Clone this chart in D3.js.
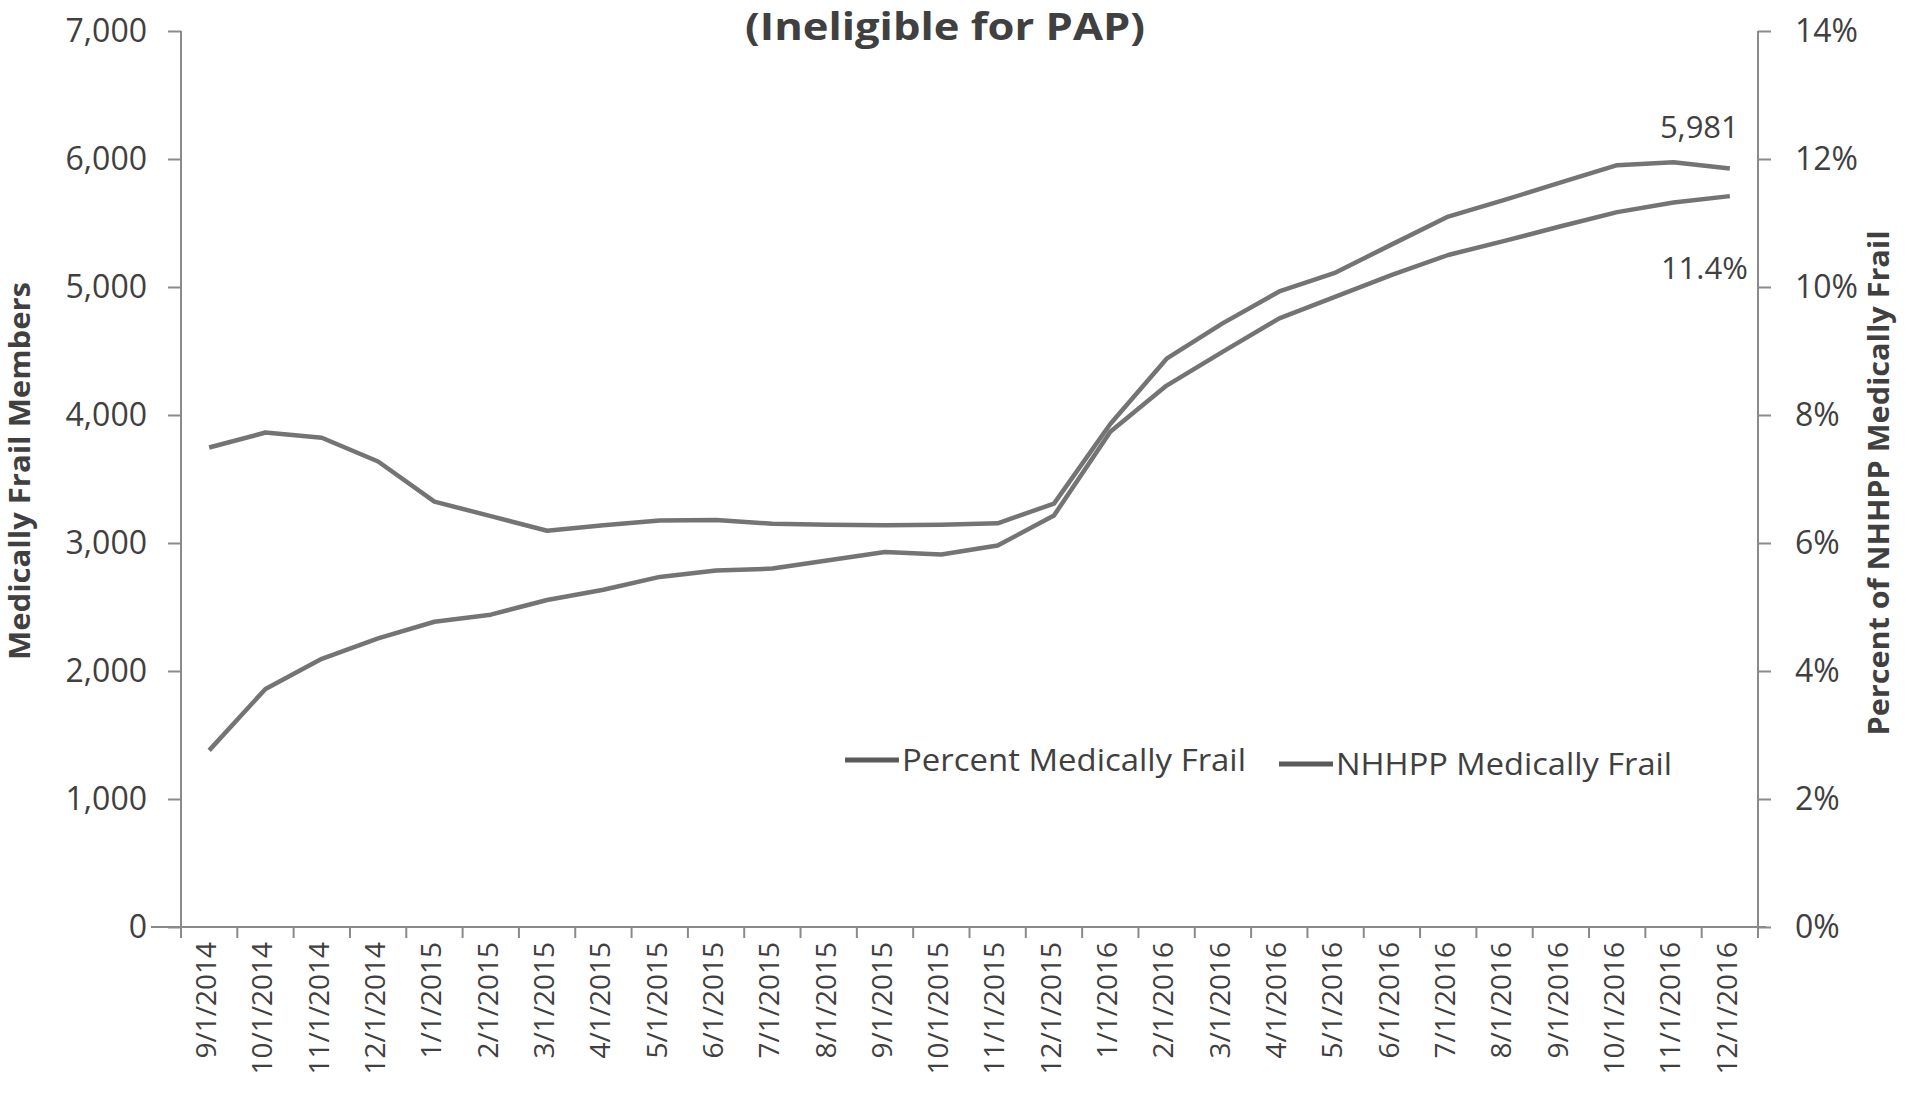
<!DOCTYPE html>
<html>
<head>
<meta charset="utf-8">
<script src="https://cdn.jsdelivr.net/npm/d3@7"></script>
<style>
  body { margin: 0; background: #fff; }
  text { font-family: "Open Sans", sans-serif; fill: #404040; }
</style>
</head>
<body>
<div id="chart"></div>
<script>
// months on the x axis
var months = ["9/1/2014","10/1/2014","11/1/2014","12/1/2014","1/1/2015","2/1/2015","3/1/2015",
  "4/1/2015","5/1/2015","6/1/2015","7/1/2015","8/1/2015","9/1/2015","10/1/2015","11/1/2015",
  "12/1/2015","1/1/2016","2/1/2016","3/1/2016","4/1/2016","5/1/2016","6/1/2016","7/1/2016",
  "8/1/2016","9/1/2016","10/1/2016","11/1/2016","12/1/2016"];

// NHHPP Medically Frail (members, left axis)
var members = [3746,3863,3822,3637,3323,3210,3096,3138,3175,3180,3150,3142,3138,3143,3154,
  3308,3930,4440,4718,4965,5113,5333,5550,5680,5818,5952,5975,5925];

// Percent Medically Frail (right axis)
var percent = [2.76,3.72,4.19,4.51,4.77,4.88,5.11,5.27,5.47,5.57,5.60,5.73,5.86,5.82,5.96,
  6.43,7.74,8.46,8.99,9.51,9.85,10.19,10.50,10.72,10.95,11.17,11.32,11.42];

var seriesNames = ["Percent Medically Frail", "NHHPP Medically Frail"];
var leftTicks = [0,1000,2000,3000,4000,5000,6000,7000];
var rightTicks = [0,2,4,6,8,10,12,14];
var endLabels = ["5,981", "11.4%"];

var W = 1917, H = 1093;
var margin = { top: 31, right: 159, bottom: 166, left: 181 };
var x0 = margin.left, x1 = W - margin.right, y0 = H - margin.bottom, y1 = margin.top;

var svg = d3.select("#chart").append("svg")
    .attr("width", W).attr("height", H)
    .style("background", "#fff");

var x = d3.scaleBand().domain(months).range([x0, x1]).padding(0);
var yL = d3.scaleLinear().domain([0, 7000]).range([y0, y1]);
var yR = d3.scaleLinear().domain([0, 14]).range([y0, y1]);
var cx = function (d) { return x(d) + x.bandwidth() / 2; };

var axisColor = "#8a8a8a";

// title (top cut off in the original)
svg.append("text")
    .attr("x", 945).attr("y", 40)
    .attr("text-anchor", "middle")
    .style("font-size", "38px").style("font-weight", "bold")
    .attr("textLength", 400).attr("lengthAdjust", "spacingAndGlyphs")
    .text("(Ineligible for PAP)");

// left axis
var gL = svg.append("g").attr("transform", "translate(" + x0 + ",0)")
    .call(d3.axisLeft(yL).tickValues(leftTicks).tickSize(13).tickPadding(21)
        .tickFormat(d3.format(",")));
gL.selectAll("text").style("font-size", "32px").style("fill", "#404040");

// right axis
var gR = svg.append("g").attr("transform", "translate(" + x1 + ",0)")
    .call(d3.axisRight(yR).tickValues(rightTicks).tickSize(13).tickPadding(24)
        .tickFormat(function (d) { return d + "%"; }));
gR.selectAll("text").style("font-size", "32px").style("fill", "#404040");

// bottom axis: labels at category centres, ticks between categories
var gB = svg.append("g").attr("transform", "translate(0," + y0 + ")")
    .call(d3.axisBottom(x).tickSize(0).tickPadding(0));
gB.selectAll("text")
    .attr("transform", "rotate(-90)")
    .attr("x", -15).attr("y", -3).attr("dy", "0.35em")
    .style("text-anchor", "end")
    .style("font-size", "28px").style("fill", "#404040");
gB.selectAll(".tick line").remove();
gB.selectAll(".btick")
    .data(months.concat(["end"]))
    .enter().append("line")
    .attr("class", "btick")
    .attr("x1", function (d, i) { return i < months.length ? x(d) : x1; })
    .attr("x2", function (d, i) { return i < months.length ? x(d) : x1; })
    .attr("y1", 0).attr("y2", 11)
    .attr("stroke", axisColor).attr("stroke-width", 2);

[gL, gR, gB].forEach(function (g) {
  g.selectAll(".domain").attr("stroke", axisColor).attr("stroke-width", 2);
  g.selectAll(".tick line").attr("stroke", axisColor).attr("stroke-width", 2);
});
gL.select(".domain").attr("d", "M0," + y1 + "V" + y0);
gR.select(".domain").attr("d", "M0," + y1 + "V" + y0);
gB.select(".domain").attr("d", "M" + (x0 - 30) + ",0H" + (x1 + 8));

// axis titles
svg.append("text")
    .attr("transform", "translate(30,471) rotate(-90)")
    .attr("text-anchor", "middle")
    .style("font-size", "28px").style("font-weight", "bold")
    .attr("textLength", 378).attr("lengthAdjust", "spacingAndGlyphs")
    .text("Medically Frail Members");

svg.append("text")
    .attr("transform", "translate(1889,483) rotate(-90)")
    .attr("text-anchor", "middle")
    .style("font-size", "28px").style("font-weight", "bold")
    .attr("textLength", 505).attr("lengthAdjust", "spacingAndGlyphs")
    .text("Percent of NHHPP Medically Frail");

// lines
var lineColor = "#747474";
var lineL = d3.line()
    .x(function (d, i) { return cx(months[i]); })
    .y(function (d) { return yL(d); });
var lineR = d3.line()
    .x(function (d, i) { return cx(months[i]); })
    .y(function (d) { return yR(d); });

svg.append("path").datum(percent)
    .attr("d", lineR)
    .attr("fill", "none").attr("stroke", lineColor)
    .attr("stroke-width", 4.5).attr("stroke-linejoin", "round");

svg.append("path").datum(members)
    .attr("d", lineL)
    .attr("fill", "none").attr("stroke", lineColor)
    .attr("stroke-width", 4.5).attr("stroke-linejoin", "round");

// end data labels
var last = months[months.length - 1];
svg.append("text")
    .attr("x", cx(last) + 9).attr("y", yL(members[members.length - 1]) - 31)
    .attr("text-anchor", "end")
    .style("font-size", "31px")
    .text(endLabels[0]);
svg.append("text")
    .attr("x", cx(last) + 18).attr("y", yR(percent[percent.length - 1]) + 83)
    .attr("text-anchor", "end")
    .style("font-size", "31px")
    .text(endLabels[1]);

// legend
var legendItems = [
  { name: seriesNames[0], x: 845, y: 760, len: 344 },
  { name: seriesNames[1], x: 1279, y: 764, len: 336 }
];
var lg = svg.selectAll(".legend").data(legendItems).enter().append("g")
    .attr("class", "legend")
    .attr("transform", function (d) { return "translate(" + d.x + "," + d.y + ")"; });
lg.append("line")
    .attr("x1", 0).attr("x2", 54).attr("y1", 0).attr("y2", 0)
    .attr("stroke", "#5a5a5a").attr("stroke-width", 5);
lg.append("text")
    .attr("x", 57).attr("y", 11)
    .style("font-size", "31px")
    .attr("textLength", function (d) { return d.len; })
    .attr("lengthAdjust", "spacingAndGlyphs")
    .text(function (d) { return d.name; });
</script>
</body>
</html>
